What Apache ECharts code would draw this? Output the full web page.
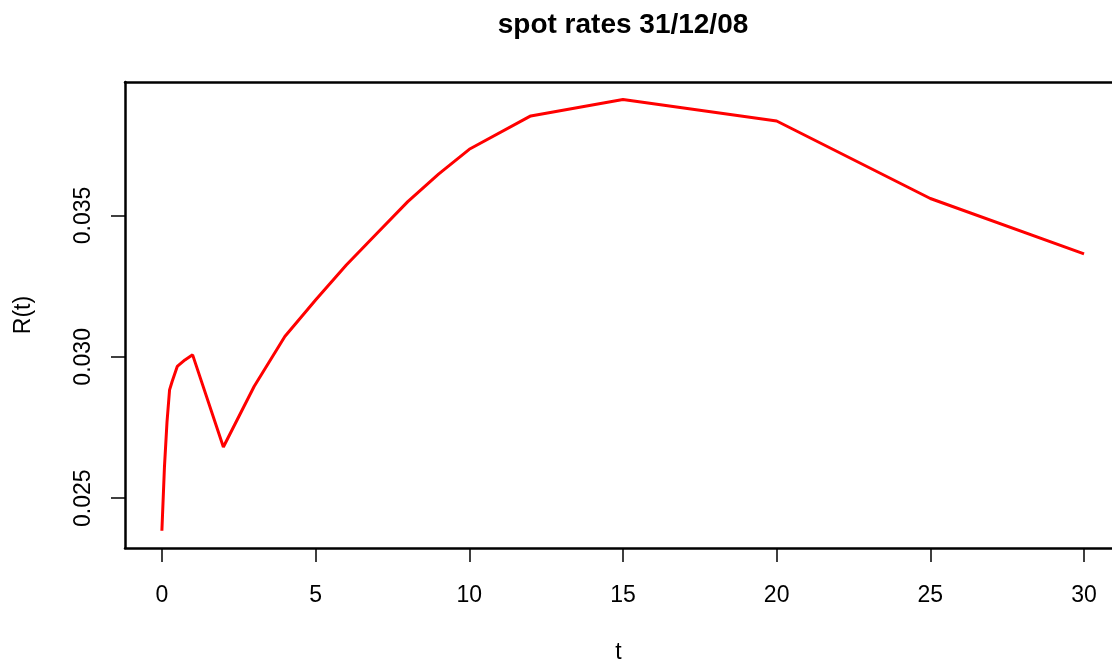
<!DOCTYPE html>
<html>
<head>
<meta charset="utf-8">
<script src="https://cdn.jsdelivr.net/npm/echarts@6/dist/echarts.min.js"></script>
<style>
html,body{margin:0;padding:0;background:#fff;}
#chart{width:1112px;height:664px;}
</style>
</head>
<body>
<div id="chart"></div>
<script>
const maturities = [0, 0.0833, 0.1667, 0.25, 0.3333, 0.5, 0.75, 1, 2, 3, 4, 5, 6, 7, 8, 9, 10, 12, 15, 20, 25, 30];
const spotRates = [0.02385, 0.0261, 0.0277, 0.02883, 0.02913, 0.02966, 0.02989, 0.03007, 0.02681, 0.02895, 0.03072, 0.03201, 0.03325, 0.03437, 0.03549, 0.03646, 0.03734, 0.03852, 0.03910, 0.03834, 0.03560, 0.03364];
const xTicks = [0, 5, 10, 15, 20, 25, 30];
const yTicks = [0.025, 0.030, 0.035];
const titleText = 'spot rates 31/12/08';

const FONT = '"Liberation Sans", Arial, sans-serif';
const chart = echarts.init(document.getElementById('chart'), null, {renderer: 'canvas'});
const frame = {color: '#000', width: 2.5};
chart.setOption({
  animation: false,
  backgroundColor: '#ffffff',
  title: {
    text: titleText,
    left: 618,
    top: 6,
    textAlign: 'center',
    textStyle: {fontFamily: FONT, fontWeight: 'bold', fontSize: 28, color: '#000'}
  },
  grid: {left: 125, top: 82, right: 0, height: 466, show: false, outerBoundsMode: 'none', containLabel: false},
  xAxis: [{
    type: 'value',
    position: 'bottom',
    min: -1.2, max: 30.91,
    name: 't',
    nameLocation: 'middle',
    nameGap: 93,
    nameMoveOverlap: false,
    nameTextStyle: {fontFamily: FONT, fontSize: 23, color: '#000', verticalAlign: 'top'},
    splitLine: {show: false},
    axisLine: {show: true, onZero: false, lineStyle: frame},
    axisTick: {show: true, length: 14, lineStyle: {color: '#000', width: 1.5}, customValues: xTicks},
    axisLabel: {fontFamily: FONT, fontSize: 23, color: '#000', margin: 36, customValues: xTicks,
      formatter: v => String(v)}
  }, {
    type: 'value',
    position: 'top',
    min: -1.2, max: 30.91,
    splitLine: {show: false},
    axisLine: {show: true, onZero: false, lineStyle: frame},
    axisTick: {show: false},
    axisLabel: {show: false}
  }],
  yAxis: {
    type: 'value',
    min: 0.02324, max: 0.03972,
    name: 'R(t)',
    nameLocation: 'middle',
    nameGap: 90,
    nameMoveOverlap: false,
    nameTextStyle: {fontFamily: FONT, fontSize: 23, color: '#000'},
    splitLine: {show: false},
    axisLine: {show: true, onZero: false, lineStyle: frame},
    axisTick: {show: true, length: 14, lineStyle: {color: '#000', width: 1.5}, customValues: yTicks},
    axisLabel: {fontFamily: FONT, fontSize: 23, color: '#000', margin: 30, rotate: 90, customValues: yTicks,
      formatter: v => v.toFixed(3)}
  },
  series: [{
    type: 'line',
    xAxisIndex: 0,
    data: maturities.map((t, i) => [t, spotRates[i]]),
    showSymbol: false,
    symbol: 'none',
    lineStyle: {color: '#ff0000', width: 3},
    clip: true
  }]
});
</script>
</body>
</html>
